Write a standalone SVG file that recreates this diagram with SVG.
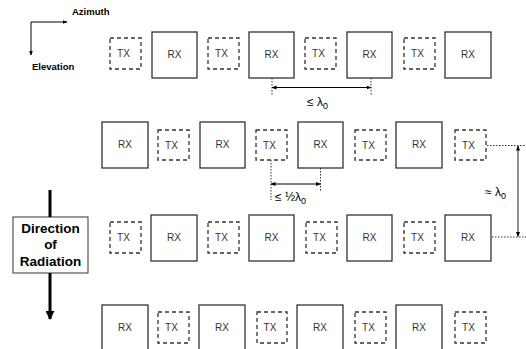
<svg xmlns="http://www.w3.org/2000/svg" width="526" height="349" viewBox="0 0 526 349">
<style>
.tx{fill:#fff;stroke:#333;stroke-width:1.3;stroke-dasharray:4,3}
.rx{fill:#fff;stroke:#333;stroke-width:1.3}
.t{font-family:"Liberation Sans",Arial,sans-serif;font-size:10px;fill:#333;text-anchor:middle}
.b{font-family:"Liberation Sans",Arial,sans-serif;font-weight:bold;fill:#000}
.lbl{font-family:"Liberation Sans",Arial,sans-serif;font-size:12px;fill:#000}
.dot{stroke:#333;stroke-width:1;stroke-dasharray:1.5,1.5;fill:none}
.dim{stroke:#000;stroke-width:1;fill:none}
</style>
<defs>
<marker id="ah" viewBox="0 0 10 10" refX="9" refY="5" markerWidth="5" markerHeight="5" orient="auto-start-reverse" markerUnits="userSpaceOnUse"><path d="M0,1 L10,5 L0,9 z" fill="#000"/></marker>
<marker id="big" viewBox="0 0 10 10" refX="9" refY="5" markerWidth="9" markerHeight="9" orient="auto" markerUnits="userSpaceOnUse"><path d="M0,0 L10,5 L0,10 z" fill="#000"/></marker>
</defs>

<g id="axes">
<line x1="31" y1="22" x2="67" y2="22" class="dim" marker-end="url(#ah)"/>
<line x1="31" y1="22" x2="31" y2="55" class="dim" marker-end="url(#ah)"/>
<text x="72" y="15" class="b" font-size="9.5">Azimuth</text>
<text x="32" y="70" class="b" font-size="9.5">Elevation</text>
</g>

<g id="row1">
<g id="r1tx1"><rect class="tx" x="110" y="38" width="31" height="31"/><text class="t" x="123.5" y="57">TX</text></g>
<g id="r1rx1"><rect class="rx" x="152" y="32" width="45" height="46"/><text class="t" x="174.5" y="58">RX</text></g>
<g id="r1tx2"><rect class="tx" x="208" y="38" width="31" height="31"/><text class="t" x="221.5" y="57">TX</text></g>
<g id="r1rx2"><rect class="rx" x="249" y="32" width="45" height="46"/><text class="t" x="271.5" y="58">RX</text></g>
<g id="r1tx3"><rect class="tx" x="305" y="38" width="31" height="31"/><text class="t" x="318.5" y="57">TX</text></g>
<g id="r1rx3"><rect class="rx" x="347" y="32" width="45" height="46"/><text class="t" x="369.5" y="58">RX</text></g>
<g id="r1tx4"><rect class="tx" x="404" y="38" width="31" height="31"/><text class="t" x="417.5" y="57">TX</text></g>
<g id="r1rx4"><rect class="rx" x="445" y="32" width="46" height="46"/><text class="t" x="468" y="58">RX</text></g>
</g>

<g id="row2">
<g id="r2rx1"><rect class="rx" x="102" y="122" width="46" height="46"/><text class="t" x="125" y="148">RX</text></g>
<g id="r2tx1"><rect class="tx" x="158" y="130" width="31" height="30"/><text class="t" x="171.5" y="149">TX</text></g>
<g id="r2rx2"><rect class="rx" x="200" y="122" width="45" height="46"/><text class="t" x="222.5" y="148">RX</text></g>
<g id="r2tx2"><rect class="tx" x="256" y="130" width="31" height="30"/><text class="t" x="269.5" y="149">TX</text></g>
<g id="r2rx3"><rect class="rx" x="298" y="122" width="45" height="46"/><text class="t" x="320.5" y="148">RX</text></g>
<g id="r2tx3"><rect class="tx" x="355" y="130" width="31" height="30"/><text class="t" x="368.5" y="149">TX</text></g>
<g id="r2rx4"><rect class="rx" x="396" y="122" width="46" height="46"/><text class="t" x="419" y="148">RX</text></g>
<g id="r2tx4"><rect class="tx" x="455" y="130" width="31" height="30"/><text class="t" x="468.5" y="149">TX</text></g>
</g>

<g id="row3">
<g id="r3tx1"><rect class="tx" x="110" y="222" width="31" height="31"/><text class="t" x="123.5" y="241">TX</text></g>
<g id="r3rx1"><rect class="rx" x="151" y="215" width="46" height="46"/><text class="t" x="174" y="241">RX</text></g>
<g id="r3tx2"><rect class="tx" x="208" y="222" width="31" height="31"/><text class="t" x="221.5" y="241">TX</text></g>
<g id="r3rx2"><rect class="rx" x="249" y="215" width="45" height="46"/><text class="t" x="271.5" y="241">RX</text></g>
<g id="r3tx3"><rect class="tx" x="306" y="222" width="31" height="31"/><text class="t" x="319.5" y="241">TX</text></g>
<g id="r3rx3"><rect class="rx" x="347" y="215" width="45" height="46"/><text class="t" x="369.5" y="241">RX</text></g>
<g id="r3tx4"><rect class="tx" x="404" y="222" width="31" height="31"/><text class="t" x="417.5" y="241">TX</text></g>
<g id="r3rx4"><rect class="rx" x="445" y="215" width="46" height="46"/><text class="t" x="468" y="241">RX</text></g>
</g>

<g id="row4">
<g id="r4rx1"><rect class="rx" x="102" y="305" width="46" height="46"/><text class="t" x="125" y="331">RX</text></g>
<g id="r4tx1"><rect class="tx" x="158" y="312" width="31" height="31"/><text class="t" x="171.5" y="331">TX</text></g>
<g id="r4rx2"><rect class="rx" x="199" y="305" width="46" height="46"/><text class="t" x="222" y="331">RX</text></g>
<g id="r4tx2"><rect class="tx" x="257" y="312" width="30" height="31"/><text class="t" x="270" y="331">TX</text></g>
<g id="r4rx3"><rect class="rx" x="297" y="305" width="46" height="46"/><text class="t" x="320" y="331">RX</text></g>
<g id="r4tx3"><rect class="tx" x="355" y="312" width="31" height="31"/><text class="t" x="368.5" y="331">TX</text></g>
<g id="r4rx4"><rect class="rx" x="396" y="305" width="46" height="46"/><text class="t" x="419" y="331">RX</text></g>
<g id="r4tx4"><rect class="tx" x="455" y="312" width="31" height="31"/><text class="t" x="468.5" y="331">TX</text></g>
</g>

<g id="direction">
<rect x="13" y="217" width="75" height="56" fill="#fff" stroke="#333" stroke-width="1"/>
<text class="b" font-size="13.5" text-anchor="middle" x="50.5" y="233">Direction</text>
<text class="b" font-size="13.5" text-anchor="middle" x="50.5" y="249">of</text>
<text class="b" font-size="13.5" text-anchor="middle" x="50.5" y="266">Radiation</text>
</g>

<g id="connectors">
<line x1="50" y1="190" x2="50" y2="217" stroke="#000" stroke-width="3"/>
<line x1="50" y1="273" x2="50" y2="319" stroke="#000" stroke-width="3" marker-end="url(#big)"/>
<line class="dot" x1="272" y1="78" x2="272" y2="95"/>
<line class="dot" x1="371" y1="78" x2="371" y2="95"/>
<line class="dim" x1="272" y1="87.5" x2="371" y2="87.5" marker-start="url(#ah)" marker-end="url(#ah)"/>
<line class="dot" x1="271" y1="160" x2="271" y2="200"/>
<line class="dot" x1="320.5" y1="168" x2="320.5" y2="192"/>
<line class="dim" x1="271" y1="184" x2="320.5" y2="184" marker-start="url(#ah)" marker-end="url(#ah)"/>
<line class="dot" x1="487" y1="145.5" x2="526" y2="145.5"/>
<line class="dot" x1="492" y1="237" x2="526" y2="237"/>
<line x1="518" y1="146" x2="518" y2="236.5" stroke="#555" stroke-width="1.3" marker-start="url(#ah)" marker-end="url(#ah)"/>
</g>

<g id="labels">
<text class="lbl" x="307" y="106">≤ λ<tspan font-size="9" dy="3">0</tspan></text>
<text class="lbl" x="275" y="201">≤ ½λ<tspan font-size="9" dy="3">0</tspan></text>
<text class="lbl" x="485" y="196">≈ λ<tspan font-size="9" dy="3">0</tspan></text>
</g>
</svg>
